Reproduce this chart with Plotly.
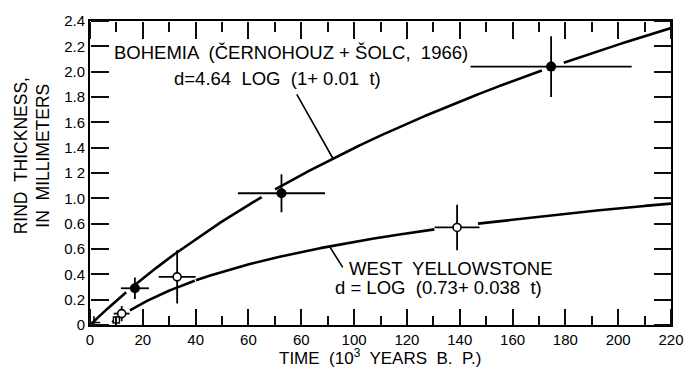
import numpy as np
import plotly.graph_objects as go

# Bohemia obsidian rind measurements (filled symbols)
boh_t = [17, 72.5, 174.6]
boh_d = [0.29, 1.04, 2.04]
boh_t_err = [5.3, 16.5, 30.5]
boh_d_err = [0.085, 0.15, 0.24]

# West Yellowstone measurements (open symbols)
wy_t = [12, 33, 139]
wy_d = [0.09, 0.38, 0.77]
wy_t_err = [3, 7, 8.5]
wy_d_err = [0.06, 0.21, 0.18]

# extra small symbols near the origin
origin_t = [1.5]
origin_d = [0.02]
square_t = [10]
square_d = [0.04]

# fitted relations written on the chart
BOH_A, BOH_B = 4.64, 0.01       # d = 4.64 log(1 + 0.01 t)
WY_C, WY_D = 0.73, 0.038        # d = log(0.73 + 0.038 t)

X_RANGE = [0, 220]
Y_RANGE = [0, 2.4]
x_tickvals = list(range(0, 221, 20))
x_ticktext = ["0", "20", "40", "60", "60", "100", "120", "140", "160", "180", "200", "220"]
y_tickvals = [round(0.2 * i, 1) for i in range(13)]
y_ticktext = ["0", "0.2", "0.4", "0.6", "0.6", "1.0", "1 2", "1.4", "1.6", "1.8", "2.0", "2.2", "2.4"]

FONT = "Liberation Sans, Arial, sans-serif"
TICK_COLOR = "rgb(12,12,12)"


def boh_curve(t):
    return BOH_A * np.log10(1 + BOH_B * np.asarray(t, dtype=float))


def wy_curve(t):
    return np.log10(WY_C + WY_D * np.asarray(t, dtype=float))


def break_at_bars(t, d, px, py, pxe, tol=0.03):
    """Leave the curve open where it runs into a horizontal error bar."""
    d = d.copy()
    for x0, y0, xe in zip(px, py, pxe):
        hit = (np.abs(t - x0) <= xe) & (np.abs(d - y0) < tol)
        d[hit] = np.nan
    return d


t = np.linspace(0, 220, 2201)
d_boh = break_at_bars(t, boh_curve(t), boh_t, boh_d, boh_t_err)
d_wy = wy_curve(t)
d_wy[d_wy < 0.02] = np.nan
d_wy = break_at_bars(t, d_wy, wy_t, wy_d, wy_t_err)

fig = go.Figure()

line_style = dict(color="black", width=2.6)
fig.add_trace(go.Scatter(x=t, y=d_boh, mode="lines", line=line_style,
                         connectgaps=False, hoverinfo="skip"))
fig.add_trace(go.Scatter(x=t, y=d_wy, mode="lines", line=line_style,
                         connectgaps=False, hoverinfo="skip"))

err_style = dict(type="data", color="black", thickness=1.8, width=0)
fig.add_trace(go.Scatter(
    x=boh_t, y=boh_d, mode="markers",
    marker=dict(symbol="circle", size=10, color="black"),
    error_x=dict(array=boh_t_err, **err_style),
    error_y=dict(array=boh_d_err, **err_style),
))
fig.add_trace(go.Scatter(
    x=wy_t, y=wy_d, mode="markers",
    marker=dict(symbol="circle", size=8, color="white",
                line=dict(color="black", width=1.6)),
    error_x=dict(array=wy_t_err, **err_style),
    error_y=dict(array=wy_d_err, **err_style),
))
fig.add_trace(go.Scatter(
    x=origin_t, y=origin_d, mode="markers",
    marker=dict(symbol="cross-thin", size=9, line=dict(color="black", width=1.6)),
))
fig.add_trace(go.Scatter(
    x=square_t, y=square_d, mode="markers",
    marker=dict(symbol="square", size=6, color="white",
                line=dict(color="black", width=1.4)),
))

# leader lines from the labels to their curves
boh_leader_t = 92
wy_leader_t = 90.7
fig.add_shape(type="line", x0=78.3, y0=1.82, x1=boh_leader_t,
              y1=float(boh_curve(boh_leader_t)),
              line=dict(color="black", width=1.6))
fig.add_shape(type="line", x0=95.7, y0=0.455, x1=wy_leader_t,
              y1=float(wy_curve(wy_leader_t)),
              line=dict(color="black", width=1.6))

label_font = dict(family=FONT, size=18.5, color="black")
fig.add_annotation(x=8.3, y=2.155, xanchor="left", yanchor="middle", showarrow=False,
                   text="BOHEMIA  (ČERNOHOUZ + ŠOLC,  1966)", font=label_font)
fig.add_annotation(x=31, y=1.95, xanchor="left", yanchor="middle", showarrow=False,
                   text="d=4.64  LOG  (1+ 0.01  t)", font=label_font)
fig.add_annotation(x=97.5, y=0.445, xanchor="left", yanchor="middle", showarrow=False,
                   text="WEST  YELLOWSTONE", font=label_font)
fig.add_annotation(x=92, y=0.30, xanchor="left", yanchor="middle", showarrow=False,
                   text="d = LOG  (0.73+ 0.038  t)", font=label_font)

# axis titles
fig.add_annotation(xref="paper", yref="paper", x=0.5, y=-0.106,
                   xanchor="center", yanchor="middle", showarrow=False,
                   text="TIME  (10<sup>3</sup>  YEARS  B.  P.)",
                   font=dict(family=FONT, size=17, color="black"))
fig.add_annotation(xref="paper", yref="paper", x=-0.1, y=0.558,
                   xanchor="center", yanchor="middle", showarrow=False, textangle=-90,
                   text="RIND  THICKNESS,<br>IN  MILLIMETERS",
                   font=dict(family=FONT, size=17.5, color="black"))

tick_font = dict(family=FONT, size=15, color="black")
plain = dict(showgrid=False, zeroline=False)


# Unlabelled companion axes sit on each edge of the frame with their
# ticks turned towards the plot, giving inward tick marks on all four sides.
def x_tick_axis(side, pos, major_len, minor_len):
    return dict(overlaying="x", anchor="free", position=pos, side=side,
                range=X_RANGE, tickmode="array", tickvals=x_tickvals,
                showticklabels=False, showline=False,
                ticks="outside", ticklen=major_len, tickwidth=2, tickcolor=TICK_COLOR,
                minor=dict(tickmode="linear", tick0=0, dtick=10, ticks="outside",
                           ticklen=minor_len, tickwidth=2, tickcolor=TICK_COLOR,
                           showgrid=False),
                **plain)


def y_tick_axis(side, pos, length):
    return dict(overlaying="y", anchor="free", position=pos, side=side,
                range=Y_RANGE, tickmode="array", tickvals=y_tickvals,
                showticklabels=False, showline=False,
                ticks="outside", ticklen=length, tickwidth=2, tickcolor=TICK_COLOR,
                **plain)


fig.update_layout(
    xaxis=dict(range=X_RANGE, tickmode="array", tickvals=x_tickvals, ticktext=x_ticktext,
               ticks="", showline=True, linecolor="black", linewidth=2, mirror=True,
               tickfont=tick_font, **plain),
    yaxis=dict(range=Y_RANGE, tickmode="array", tickvals=y_tickvals, ticktext=y_ticktext,
               ticks="", showline=True, linecolor="black", linewidth=2, mirror=True,
               tickfont=tick_font, **plain),
    xaxis2=x_tick_axis("top", 0, 16, 9),
    xaxis3=x_tick_axis("bottom", 1, 17, 10),
    yaxis2=y_tick_axis("right", 0, 18),
    yaxis3=y_tick_axis("left", 1, 17),
)

for xa, ya in (("x2", "y2"), ("x3", "y3")):
    fig.add_trace(go.Scatter(x=[None], y=[None], xaxis=xa, yaxis=ya,
                             mode="markers", hoverinfo="skip"))

fig.update_layout(
    width=696, height=374,
    margin=dict(l=90, r=24, t=15, b=49),
    paper_bgcolor="white", plot_bgcolor="white",
    showlegend=False,
)

fig.write_html("out.html")
